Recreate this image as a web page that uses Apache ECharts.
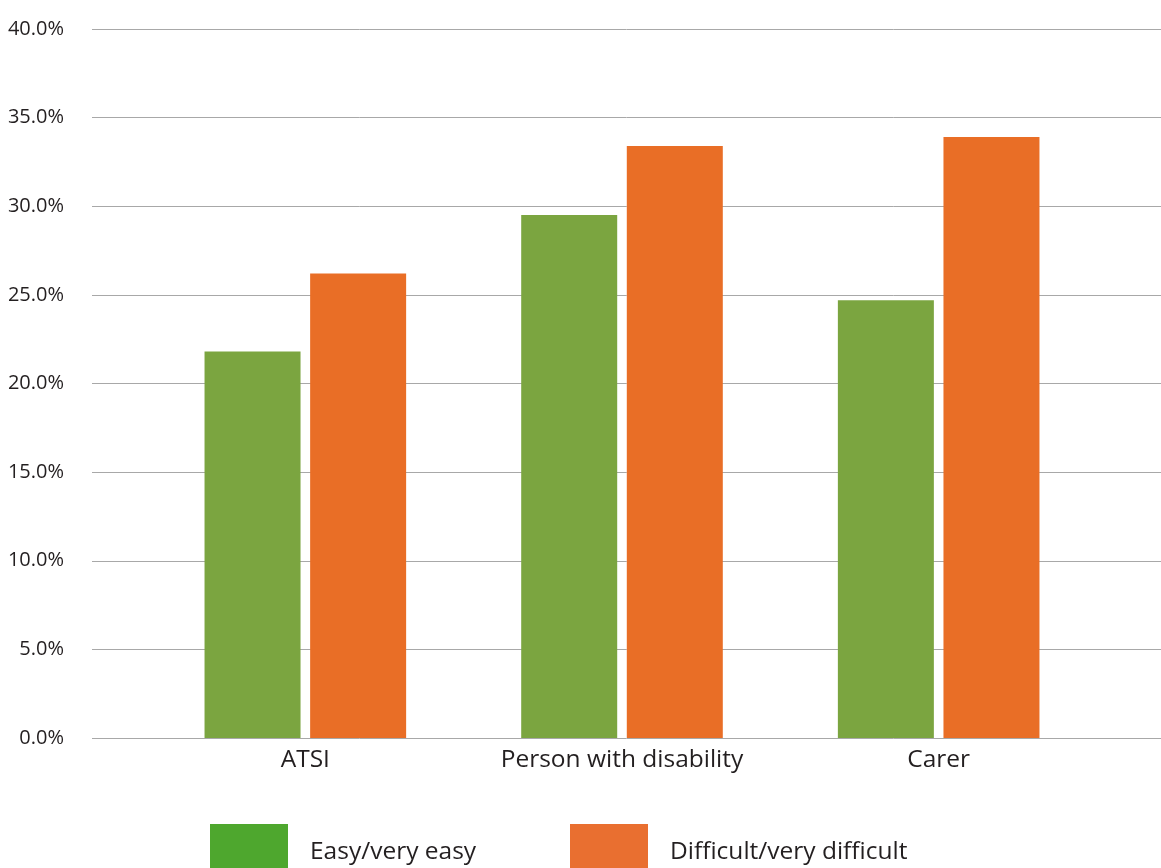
<!DOCTYPE html>
<html>
<head>
<meta charset="utf-8">
<script src="https://cdn.jsdelivr.net/npm/echarts@6/dist/echarts.min.js"></script>
<style>
  html, body { margin: 0; padding: 0; background: #ffffff; }
  #chart { width: 1161px; height: 868px; }
</style>
</head>
<body>
<div id="chart"></div>
<script>
// Survey groups and the share of respondents in each rating
const categories = ['ATSI', 'Person with disability', 'Carer'];
const easyValues = [21.8, 29.5, 24.7];
const difficultValues = [26.2, 33.4, 33.9];
const seriesNames = ['Easy/very easy', 'Difficult/very difficult'];

const FONT = '"Open Sans", "Noto Sans", sans-serif';
const TEXT = '#231f20';
const GRID_LINE = '#a8a8a8';
const BAR_GREEN = '#7ba540';
const BAR_ORANGE = '#e96e26';
const KEY_GREEN = '#4ea72e';
const KEY_ORANGE = '#e96f30';

const chart = echarts.init(document.getElementById('chart'), null, { renderer: 'canvas' });

const valueAxisBase = { type: 'value', min: 0, max: 40, interval: 5 };

chart.setOption({
  animation: false,
  backgroundColor: '#ffffff',
  grid: [
    // wide grid carrying the y labels and the full-width gridlines
    { left: 92, right: 0, top: 29, bottom: 130 },
    // narrower grid holding the bars and category labels
    { left: 147, right: 64, top: 29, bottom: 130 }
  ],
  xAxis: [
    { type: 'value', gridIndex: 0, show: false, min: 0, max: 1 },
    {
      type: 'category', gridIndex: 1, data: categories,
      axisLine: { show: false }, axisTick: { show: false },
      axisLabel: { color: TEXT, fontFamily: FONT, fontSize: 24.5, margin: 10 }
    }
  ],
  yAxis: [
    Object.assign({}, valueAxisBase, {
      gridIndex: 0,
      axisLine: { show: false }, axisTick: { show: false },
      axisLabel: {
        color: TEXT, fontFamily: FONT, fontSize: 20, margin: 28,
        formatter: v => v.toFixed(1) + '%'
      },
      splitLine: { show: true, lineStyle: { color: GRID_LINE, width: 1 } }
    }),
    Object.assign({}, valueAxisBase, {
      gridIndex: 1, show: false, splitLine: { show: false }
    })
  ],
  legend: [
    {
      left: 210, top: 824, padding: 0, itemWidth: 78, itemHeight: 57, icon: 'rect',
      data: [{ name: seriesNames[0], itemStyle: { color: KEY_GREEN } }],
      textStyle: { color: TEXT, fontFamily: FONT, fontSize: 24.5, padding: [0, 0, 0, 17] }
    },
    {
      left: 570, top: 824, padding: 0, itemWidth: 78, itemHeight: 57, icon: 'rect',
      data: [{ name: seriesNames[1], itemStyle: { color: KEY_ORANGE } }],
      textStyle: { color: TEXT, fontFamily: FONT, fontSize: 24.5, padding: [0, 0, 0, 17] }
    }
  ],
  series: [
    {
      name: seriesNames[0], type: 'bar', xAxisIndex: 1, yAxisIndex: 1,
      data: easyValues, barWidth: 96, barGap: '10%',
      itemStyle: { color: BAR_GREEN }
    },
    {
      name: seriesNames[1], type: 'bar', xAxisIndex: 1, yAxisIndex: 1,
      data: difficultValues, barWidth: 96, barGap: '10%',
      itemStyle: { color: BAR_ORANGE }
    }
  ]
});
</script>
</body>
</html>
